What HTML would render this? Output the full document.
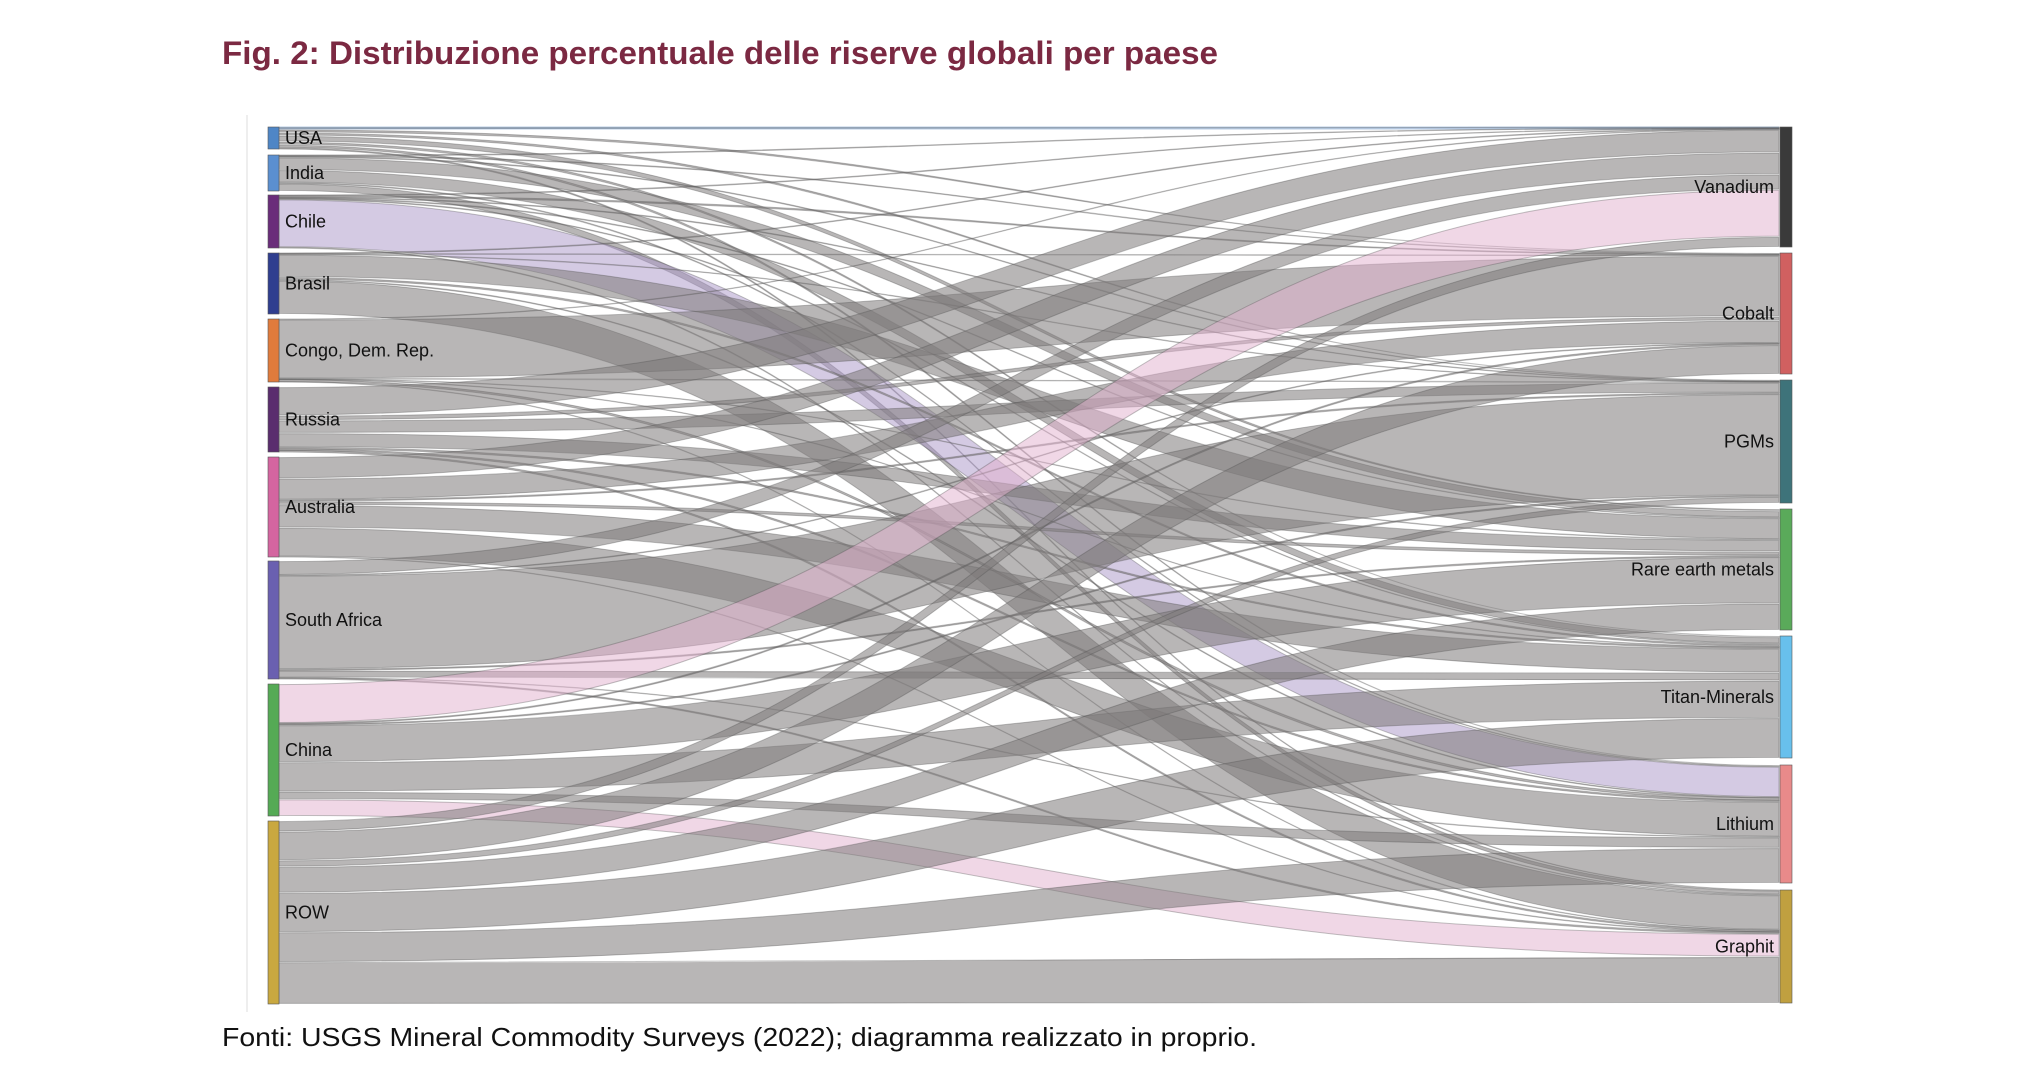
<!DOCTYPE html>
<html><head><meta charset="utf-8"><style>
html,body{margin:0;padding:0;background:#fff;}
svg{display:block;}
</style></head><body>
<svg id="s" width="2026" height="1090" xmlns="http://www.w3.org/2000/svg">
<rect width="2026" height="1090" fill="#fff"/>
<text x="222" y="64" font-family="Liberation Sans, sans-serif" font-weight="bold" font-size="32" fill="#7b2942" textLength="996" lengthAdjust="spacingAndGlyphs">Fig. 2: Distribuzione percentuale delle riserve globali per paese</text>
<line x1="247" y1="115" x2="247" y2="1012" stroke="#eee" stroke-width="2"/>
<line x1="279" y1="128" x2="1779" y2="128" stroke="#b8cce4" stroke-width="3"/>
<g id="links"></g>
<g id="nodes"></g>
<text x="222" y="1046" font-family="Liberation Sans, sans-serif" font-size="26" fill="#111" textLength="1035" lengthAdjust="spacingAndGlyphs">Fonti: USGS Mineral Commodity Surveys (2022); diagramma realizzato in proprio.</text>
</svg>
<script>
var L=[["USA",127,149,"#4f86c6"],["India",155,191,"#5b8fd0"],["Chile",195,248,"#6a2d7a"],["Brasil",253,314,"#2f3e8f"],["Congo, Dem. Rep.",319,382,"#e07b3c"],["Russia",387,452,"#5a2d6e"],["Australia",457,557,"#d465a0"],["South Africa",561,679,"#6a60b0"],["China",684,816,"#55aa55"],["ROW",821,1004,"#c9a840"]];
var R=[["Vanadium",127,247,"#3a3a3a"],["Cobalt",253,374,"#d06060"],["PGMs",380,503,"#3e737a"],["Rare earth metals",509,630,"#5aaa5a"],["Titan-Minerals",636,758,"#68c0ec"],["Lithium",765,883,"#e88a8a"],["Graphit",890,1003,"#c0a040"]];
var M=[
[0.6,0.8,0.8,1.5,0.8,0.8,0.3],
[0.3,0.3,0.3,5,5,0.3,3],
[0.3,0.6,0.3,0.3,0.3,20,0.3],
[0.5,0.3,0.3,16,2,0.5,24],
[0.3,46,0.3,0.3,0.3,1.5,0.3],
[18,3,8,9,1,1,1],
[17,17,1,3,18,23,0.3],
[12,0.5,80,1,6,0.3,1],
[37,1,1,35,28,7,16],
[8,22,5,20,30,23,32]];
var x0=279,x1=1779,xm=(x0+x1)/2;
var rs=M.map(r=>r.reduce((a,b)=>a+b,0));
var cs=R.map((_,j)=>M.reduce((a,r)=>a+r[j],0));
var out="";
var tw=[];
for(var j=0;j<R.length;j++){tw[j]=[];var y=R[j][1];for(var i=0;i<L.length;i++){var w=M[i][j]/cs[j]*(R[j][2]-R[j][1]);tw[j][i]=[y,y+w];y+=w;}}
for(var i=0;i<L.length;i++){var y=L[i][1];for(var j=0;j<R.length;j++){var w=M[i][j]/rs[i]*(L[i][2]-L[i][1]);var a=y,b=y+w;y+=w;var c=tw[j][i][0],d=tw[j][i][1];
var col="rgba(125,122,122,0.55)";
if(i==2&&j==5)col="rgba(170,150,200,0.5)";
if(i==8&&(j==0||j==6))col="rgba(225,175,205,0.5)";
if(i==0&&j==0)col="rgba(160,190,225,0.6)";
var g=w>2?0.6:0;
out+='<path d="M'+x0+','+(a+g)+' C'+xm+','+(a+g)+' '+xm+','+(c+g)+' '+x1+','+(c+g)+' L'+x1+','+(d-g)+' C'+xm+','+(d-g)+' '+xm+','+(b-g)+' '+x0+','+(b-g)+'Z" fill="'+col+'" stroke="rgba(80,80,80,0.35)" stroke-width="1"/>';}}
document.getElementById("links").innerHTML=out;
var n="";
L.forEach(function(d){n+='<rect x="268" y="'+d[1]+'" width="11" height="'+(d[2]-d[1])+'" fill="'+d[3]+'" stroke="#555" stroke-width="0.6"/>';
n+='<text x="285" y="'+((d[1]+d[2])/2+6)+'" font-family="Liberation Sans, sans-serif" font-size="18" fill="#111">'+d[0]+'</text>';});
R.forEach(function(d){n+='<rect x="1780" y="'+d[1]+'" width="12" height="'+(d[2]-d[1])+'" fill="'+d[3]+'" stroke="#555" stroke-width="0.6"/>';
n+='<text x="1774" y="'+((d[1]+d[2])/2+6)+'" text-anchor="end" font-family="Liberation Sans, sans-serif" font-size="18" fill="#111">'+d[0]+'</text>';});
document.getElementById("nodes").innerHTML=n;
</script>
</body></html>
